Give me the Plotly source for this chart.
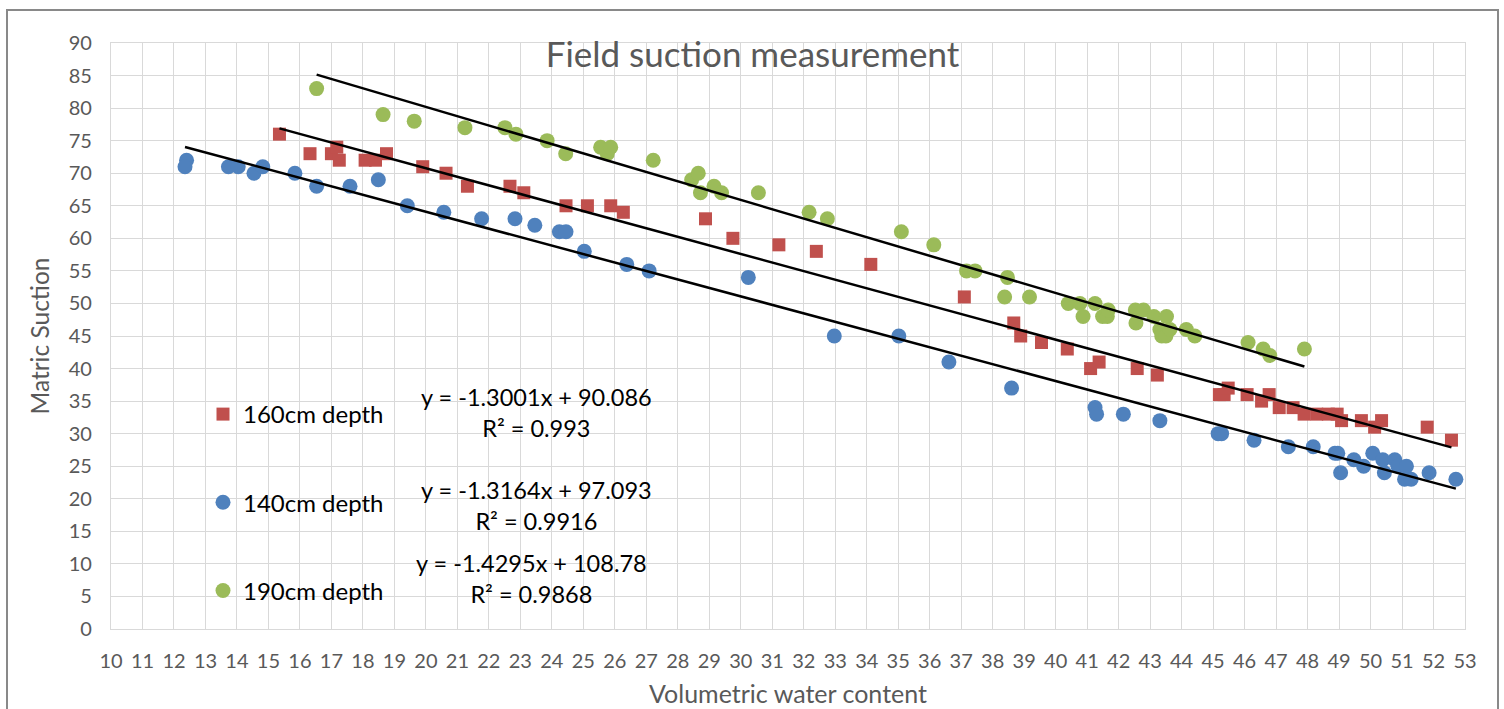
import numpy as np
import plotly.graph_objects as go

# ---- data -------------------------------------------------------------
# 140 cm depth
x_140 = [12.40, 12.35, 13.73, 14.04, 14.54, 14.82, 15.84, 16.53, 17.59, 18.49,
         19.41, 20.57, 21.77, 22.83, 23.46, 24.24, 24.45, 25.03, 26.38, 27.09,
         30.24, 32.97, 35.02, 36.61, 38.60, 41.25, 41.30, 42.15, 43.31, 45.16,
         45.27, 46.30, 47.39, 48.18, 48.87, 48.96, 49.05, 49.47, 49.78, 50.07,
         50.39, 50.44, 50.77, 50.87, 51.14, 51.08, 51.29, 51.86, 52.71]
y_140 = [72, 71, 71, 71, 70, 71, 70, 68, 68, 69,
         65, 64, 63, 63, 62, 61, 61, 58, 56, 55,
         54, 45, 45, 41, 37, 34, 33, 33, 32, 30,
         30, 29, 28, 28, 27, 27, 24, 26, 25, 27,
         26, 24, 26, 25, 25, 23, 23, 24, 23]

# 160 cm depth
x_160 = [15.35, 16.32, 17.00, 17.17, 17.25, 18.07, 18.40, 18.75, 19.90, 20.64,
         21.32, 22.67, 23.11, 24.45, 25.13, 25.87, 26.27, 28.88, 29.75, 31.21,
         32.40, 34.13, 37.10, 38.67, 38.89, 39.55, 40.37, 41.11, 41.38, 42.59,
         43.23, 45.20, 45.35, 45.48, 46.08, 46.54, 46.78, 47.10, 47.54, 47.89,
         48.29, 48.66, 48.94, 49.08, 49.71, 50.13, 50.35, 51.80, 52.57]
y_160 = [76, 73, 73, 74, 72, 72, 72, 73, 71, 70,
         68, 68, 67, 65, 65, 65, 64, 63, 60, 59,
         58, 56, 51, 47, 45, 44, 43, 40, 41, 40,
         39, 36, 36, 37, 36, 35, 36, 34, 34, 33,
         33, 33, 33, 32, 32, 31, 32, 31, 29]

# 190 cm depth
x_190 = [16.53, 18.64, 19.63, 21.24, 22.51, 22.86, 23.85, 24.44, 25.55, 25.76,
         25.87, 27.22, 28.44, 28.65, 28.72, 29.15, 29.39, 30.56, 32.17, 32.75,
         35.10, 36.13, 37.17, 37.44, 38.47, 38.38, 39.17, 40.40, 40.77, 40.87,
         41.25, 41.49, 41.64, 41.67, 42.53, 42.79, 42.55, 43.12, 43.52, 43.31,
         43.37, 43.50, 43.63, 44.15, 44.42, 46.11, 46.59, 46.80, 47.90]
y_190 = [83, 79, 78, 77, 77, 76, 75, 73, 74, 73,
         74, 72, 69, 70, 67, 68, 67, 67, 64, 63,
         61, 59, 55, 55, 54, 51, 51, 50, 50, 48,
         50, 48, 48, 49, 49, 49, 47, 48, 48, 46,
         45, 45, 46, 46, 45, 44, 43, 42, 43]

# linear trendline coefficients (slope, intercept, R²)
fit_140 = (-1.3001, 90.086, 0.993)
fit_160 = (-1.3164, 97.093, 0.9916)
fit_190 = (-1.4295, 108.78, 0.9868)

x_ticks = list(range(10, 54))
y_ticks = list(range(0, 91, 5))

# ---- styling ----------------------------------------------------------
FONT = "Lato"
GREY_TXT = "#595959"
GRID = "#D9D9D9"
W, H = 1504, 709
L, R, T, B = 111, 1465, 43, 629


def px_x(p):
    return (p - L) / (R - L)


def px_y(p):
    return (B - p) / (B - T)


fig = go.Figure()

series = [
    ("160cm depth", x_160, y_160, fit_160, "#C0504D", "square", 13),
    ("140cm depth", x_140, y_140, fit_140, "#4F81BD", "circle", 15),
    ("190cm depth", x_190, y_190, fit_190, "#9BBB59", "circle", 15),
]

for i, (name, xs, ys, fit, col, sym, sz) in enumerate(series):
    fig.add_trace(go.Scatter(
        x=xs, y=ys, mode="markers", name=name, legendgroup=f"g{i}",
        marker=dict(color=col, symbol=sym, size=sz, line=dict(width=0)),
    ))

for name, xs, ys, fit, col, sym, sz in series:
    slope, icpt, _ = fit
    xl = np.array([min(xs), max(xs)])
    fig.add_trace(go.Scatter(
        x=xl, y=slope * xl + icpt, mode="lines", showlegend=False,
        line=dict(color="black", width=2.5), hoverinfo="skip",
    ))

# trendline equation labels
labels = [(fit_140, 536, 397), (fit_160, 536, 490), (fit_190, 531, 563)]
for (slope, icpt, r2), cx, cy in labels:
    txt = f"y = {slope}x + {icpt}<br>R² = {r2}"
    fig.add_annotation(
        xref="paper", yref="paper", x=px_x(cx), y=px_y(cy - 16),
        xanchor="center", yanchor="top", showarrow=False, align="center",
        text=txt, font=dict(family=FONT, size=23.5, color="black"),
    )

# outer chart frame
fig.add_shape(type="rect", xref="paper", yref="paper",
              x0=px_x(7), x1=px_x(1498), y0=px_y(760), y1=px_y(10),
              line=dict(color="#898989", width=2), fillcolor="rgba(0,0,0,0)",
              layer="below")

fig.update_layout(
    width=W, height=H,
    margin=dict(l=L, r=W - R, t=T, b=H - B),
    paper_bgcolor="white", plot_bgcolor="white",
    title=dict(text="Field suction measurement", xref="container", yref="container",
               x=752.5 / W, y=1 - 55 / H, xanchor="center", yanchor="middle",
               font=dict(family=FONT, size=35, color=GREY_TXT)),
    showlegend=True,
    legend=dict(x=px_x(203), y=px_y(392), xanchor="left", yanchor="top",
                bgcolor="rgba(0,0,0,0)", tracegroupgap=54,
                font=dict(family=FONT, size=24, color="black"),
                itemsizing="trace"),
    xaxis=dict(range=[10, 53], tickvals=x_ticks, ticktext=[str(v) for v in x_ticks],
               automargin=False,
               showgrid=True, gridcolor=GRID, gridwidth=1.3,
               showline=True, linecolor=GRID, linewidth=1.3, mirror=True,
               zeroline=False, ticks="", ticklen=0, ticklabelstandoff=14,
               tickfont=dict(family=FONT, size=20, color=GREY_TXT),
               title=dict(text="Volumetric water content", standoff=14,
                          font=dict(family=FONT, size=25, color=GREY_TXT))),
    yaxis=dict(range=[0, 90], tickvals=y_ticks,
               automargin=False,
               showgrid=True, gridcolor=GRID, gridwidth=1.3,
               showline=True, linecolor=GRID, linewidth=1.3, mirror=True,
               zeroline=False, ticks="", ticklen=0, ticklabelstandoff=14,
               tickfont=dict(family=FONT, size=20, color=GREY_TXT),
               title=dict(text="Matric Suction", standoff=12,
                          font=dict(family=FONT, size=24.5, color=GREY_TXT))),
)

fig.write_html("out.html")
